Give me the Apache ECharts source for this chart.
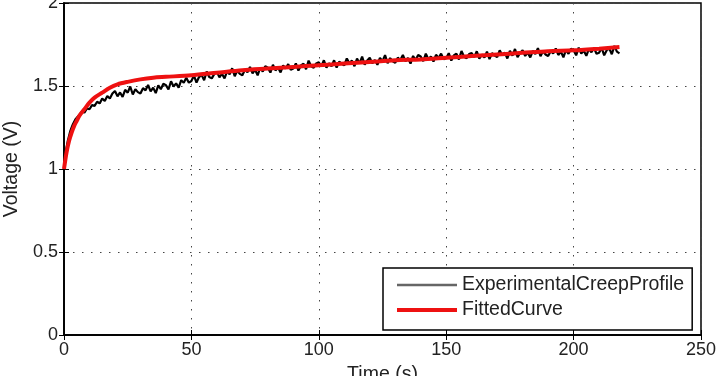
<!DOCTYPE html>
<html>
<head>
<meta charset="utf-8">
<script src="https://cdn.jsdelivr.net/npm/echarts@6/dist/echarts.min.js"></script>
<style>
  html, body { margin: 0; padding: 0; background: #fff; }
  #chart { width: 719px; height: 376px; }
</style>
</head>
<body>
<div id="chart"></div>
<script>
var expTime = [0, 0.5, 1, 1.5, 2, 2.5, 3, 3.5, 4, 4.5, 5, 6, 7, 8, 9, 10, 11, 12, 13, 14, 15, 16, 17, 18, 19,
  20, 21, 22, 23, 24, 25, 26, 27, 28, 29, 30, 31, 32, 33, 34, 35, 36, 37, 38, 39,
  40, 41, 42, 43, 44, 45, 46, 47, 48, 49, 50, 51, 52, 53, 54, 55, 56, 57, 58, 59,
  60, 61, 62, 63, 64, 65, 66, 67, 68, 69, 70, 71, 72, 73, 74, 75, 76, 77, 78, 79,
  80, 81, 82, 83, 84, 85, 86, 87, 88, 89, 90, 91, 92, 93, 94, 95, 96, 97, 98, 99,
  100, 101, 102, 103, 104, 105, 106, 107, 108, 109, 110, 111, 112, 113, 114, 115, 116, 117, 118, 119,
  120, 121, 122, 123, 124, 125, 126, 127, 128, 129, 130, 131, 132, 133, 134, 135, 136, 137, 138, 139,
  140, 141, 142, 143, 144, 145, 146, 147, 148, 149, 150, 151, 152, 153, 154, 155, 156, 157, 158, 159,
  160, 161, 162, 163, 164, 165, 166, 167, 168, 169, 170, 171, 172, 173, 174, 175, 176, 177, 178, 179,
  180, 181, 182, 183, 184, 185, 186, 187, 188, 189, 190, 191, 192, 193, 194, 195, 196, 197, 198, 199,
  200, 201, 202, 203, 204, 205, 206, 207, 208, 209, 210, 211, 212, 213, 214, 215, 216, 217, 218];
var expVoltage = [1.00, 1.08, 1.13, 1.17, 1.20, 1.23, 1.25, 1.27, 1.28, 1.30, 1.31, 1.325, 1.345, 1.34, 1.365, 1.36, 1.385, 1.38, 1.405, 1.395, 1.425, 1.41, 1.44, 1.425, 1.455,
  1.470, 1.438, 1.461, 1.434, 1.477, 1.460, 1.497, 1.449, 1.481, 1.463, 1.455, 1.487, 1.474, 1.506, 1.468, 1.490, 1.457, 1.504, 1.481, 1.513,
  1.505, 1.479, 1.528, 1.497, 1.516, 1.490, 1.535, 1.520, 1.550, 1.520, 1.530, 1.563, 1.521, 1.554, 1.567, 1.535, 1.587, 1.554, 1.546, 1.573,
  1.585, 1.552, 1.574, 1.546, 1.588, 1.570, 1.607, 1.559, 1.591, 1.573, 1.565, 1.597, 1.583, 1.615, 1.576, 1.598, 1.564, 1.611, 1.587, 1.619,
  1.610, 1.581, 1.628, 1.594, 1.611, 1.582, 1.624, 1.605, 1.632, 1.598, 1.605, 1.636, 1.593, 1.624, 1.635, 1.601, 1.653, 1.619, 1.610, 1.636,
  1.643, 1.619, 1.655, 1.611, 1.637, 1.619, 1.655, 1.611, 1.647, 1.633, 1.625, 1.666, 1.637, 1.653, 1.619, 1.665, 1.636, 1.677, 1.628, 1.654,
  1.670, 1.636, 1.657, 1.628, 1.669, 1.650, 1.686, 1.637, 1.668, 1.649, 1.640, 1.671, 1.657, 1.687, 1.648, 1.669, 1.635, 1.681, 1.656, 1.687,
  1.678, 1.649, 1.695, 1.661, 1.677, 1.647, 1.688, 1.669, 1.695, 1.661, 1.667, 1.698, 1.653, 1.684, 1.695, 1.660, 1.711, 1.676, 1.667, 1.692,
  1.698, 1.674, 1.709, 1.665, 1.690, 1.671, 1.707, 1.662, 1.698, 1.683, 1.674, 1.715, 1.685, 1.701, 1.666, 1.712, 1.683, 1.723, 1.674, 1.699,
  1.715, 1.681, 1.701, 1.672, 1.712, 1.693, 1.728, 1.679, 1.709, 1.690, 1.680, 1.710, 1.696, 1.726, 1.687, 1.707, 1.673, 1.718, 1.694, 1.724,
  1.715, 1.685, 1.731, 1.696, 1.712, 1.682, 1.723, 1.703, 1.729, 1.694, 1.700, 1.730, 1.685, 1.716, 1.726, 1.691, 1.742, 1.707, 1.697];

// fitted curve (red)
var fitTime = [0, 1, 2, 3, 4, 5, 6, 8, 10, 12, 15, 18, 21, 25, 30, 35, 40, 50, 60, 70, 80, 90, 100,
  110, 120, 130, 140, 150, 160, 170, 180, 190, 200, 210, 218];
var fitVoltage = [1.00, 1.10, 1.17, 1.22, 1.26, 1.29, 1.32, 1.36, 1.40, 1.43, 1.46, 1.49, 1.51, 1.525, 1.54, 1.55, 1.555, 1.565, 1.58, 1.595, 1.605, 1.615, 1.625,
  1.635, 1.645, 1.655, 1.66, 1.67, 1.68, 1.69, 1.70, 1.71, 1.715, 1.725, 1.735];

var seriesNames = ['ExperimentalCreepProfile', 'FittedCurve'];

function pairs(xs, ys) {
  return xs.map(function (x, i) { return [x, ys[i]]; });
}

var font = 'Liberation Sans, Arial, Helvetica, sans-serif';
var chart = echarts.init(document.getElementById('chart'));

var gridLine = { show: true, lineStyle: { color: '#444', type: [1.5, 7.5], width: 1 } };
var tick = { show: true, inside: true, length: 5, lineStyle: { color: '#000', width: 1 } };

chart.setOption({
  animation: false,
  grid: {
    left: 64, right: 18, top: 3, bottom: 41,
    containLabel: false, outerBoundsMode: 'none',
    show: true, borderColor: '#000', borderWidth: 1.5
  },
  xAxis: [{
    type: 'value', min: 0, max: 250, interval: 50,
    name: 'Time (s)', nameLocation: 'middle', nameGap: 30,
    nameTextStyle: { fontFamily: font, fontSize: 19.5, color: '#222' },
    axisLine: { show: true, lineStyle: { color: '#000', width: 1.5 } },
    axisTick: tick,
    axisLabel: { fontFamily: font, fontSize: 18, color: '#222', margin: 6 },
    splitLine: gridLine
  }, {
    type: 'value', min: 0, max: 250, interval: 50, position: 'top',
    axisLine: { show: true, lineStyle: { color: '#000', width: 1.5 } },
    axisTick: tick, axisLabel: { show: false }, splitLine: { show: false }
  }],
  yAxis: [{
    type: 'value', min: 0, max: 2, interval: 0.5,
    name: 'Voltage (V)', nameLocation: 'middle', nameGap: 42,
    nameTextStyle: { fontFamily: font, fontSize: 19.5, color: '#222' },
    axisLine: { show: true, lineStyle: { color: '#000', width: 1.5 } },
    axisTick: tick,
    axisLabel: { fontFamily: font, fontSize: 18, color: '#222', margin: 6 },
    splitLine: gridLine
  }, {
    type: 'value', min: 0, max: 2, interval: 0.5, position: 'right',
    axisLine: { show: true, lineStyle: { color: '#000', width: 1.5 } },
    axisTick: tick, axisLabel: { show: false }, splitLine: { show: false }
  }],
  legend: {
    orient: 'vertical', left: 383, top: 268,
    padding: [6, 8, 9, 12], itemGap: 3,
    itemWidth: 60, itemHeight: 22,
    backgroundColor: '#fff', borderColor: '#000', borderWidth: 1.5,
    textStyle: { fontFamily: font, fontSize: 19.5, lineHeight: 22, color: '#222' },
    data: [
      { name: seriesNames[0], itemStyle: { opacity: 0 }, lineStyle: { color: '#666', width: 2.5, opacity: 1 } },
      { name: seriesNames[1], itemStyle: { opacity: 0 }, lineStyle: { color: '#ee1111', width: 4, opacity: 1 } }
    ]
  },
  series: [{
    name: seriesNames[0], type: 'line', symbol: 'none',
    lineStyle: { color: '#000', width: 2.2 },
    itemStyle: { color: '#000' },
    data: pairs(expTime, expVoltage), z: 2
  }, {
    name: seriesNames[1], type: 'line', symbol: 'none', smooth: 0.3,
    lineStyle: { color: '#ee1111', width: 4 },
    itemStyle: { color: '#ee1111' },
    data: pairs(fitTime, fitVoltage), z: 3
  }]
});
</script>
</body>
</html>
